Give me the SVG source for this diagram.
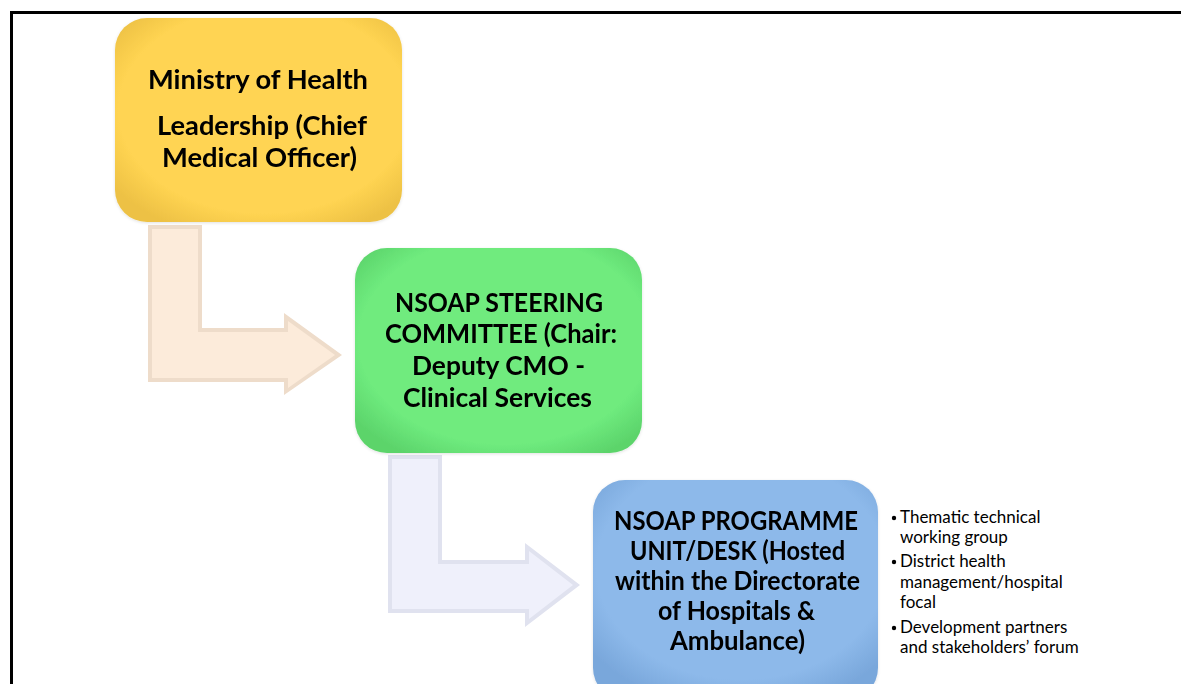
<svg xmlns="http://www.w3.org/2000/svg" width="1181" height="684" viewBox="0 0 1181 684">
  <style>
    .box-text { font-family: Lato, "Liberation Sans", sans-serif; font-weight: 700; font-size: 27px; fill: #000; text-anchor: middle; }
    .box-text.sm { font-size: 26px; }
    .note { font-family: Lato, "Liberation Sans", sans-serif; font-size: 17px; fill: #000; }
    .frame { stroke: #000; stroke-width: 3; fill: none; }
  </style>
  <defs>
    <radialGradient id="gYellow" cx="52%" cy="45%" r="65%">
      <stop offset="0.78" stop-color="#FFD452"/>
      <stop offset="1" stop-color="#EDC144"/>
    </radialGradient>
    <radialGradient id="gGreen" cx="52%" cy="45%" r="65%">
      <stop offset="0.78" stop-color="#6FEB7E"/>
      <stop offset="1" stop-color="#5CD46B"/>
    </radialGradient>
    <radialGradient id="gBlue" cx="52%" cy="40%" r="65%">
      <stop offset="0.78" stop-color="#8DB9EA"/>
      <stop offset="1" stop-color="#79A7DB"/>
    </radialGradient>
    <filter id="soft" x="-10%" y="-10%" width="120%" height="120%">
      <feGaussianBlur in="SourceAlpha" stdDeviation="1.5"/>
      <feOffset dx="0" dy="1" result="b"/>
      <feFlood flood-color="#000" flood-opacity="0.12"/>
      <feComposite in2="b" operator="in"/>
      <feMerge><feMergeNode/><feMergeNode in="SourceGraphic"/></feMerge>
    </filter>
  </defs>

  <!-- frame lines along the top and left edges -->
  <path class="frame" d="M11.5 684 V12.5 H1181"/>

  <!-- bent arrows between levels (outer band plus lighter face = bevel) -->
  <g id="connectors">
    <g id="arrow-1">
      <polygon points="148,225 202,225 202,328 284,328 284,313 342,355 284,395 284,382 148,382" fill="#EEDCCA"/>
      <polygon points="152,229 198,229 198,332 288,332 288,321 335,355 288,388 288,378 152,378" fill="#FCEBDA"/>
    </g>
    <g id="arrow-2">
      <polygon points="388,455 442,455 442,560 525,560 525,543 580,585 525,627 525,613 388,613" fill="#E0E2EF"/>
      <polygon points="392,459 438,459 438,564 529,564 529,551 573,585 529,619 529,609 392,609" fill="#EFF0FB"/>
    </g>
  </g>

  <g id="node-moh" filter="url(#soft)">
    <rect x="115" y="18" width="287" height="204" rx="32" fill="url(#gYellow)"/>
    <text class="box-text" x="258" y="89" textLength="220" lengthAdjust="spacingAndGlyphs">Ministry of Health</text>
    <text class="box-text" x="262" y="135" textLength="210" lengthAdjust="spacingAndGlyphs">Leadership (Chief</text>
    <text class="box-text" x="259.5" y="167" textLength="195" lengthAdjust="spacingAndGlyphs">Medical Officer)</text>
  </g>

  <g id="node-steering" filter="url(#soft)">
    <rect x="355" y="248" width="287" height="205" rx="32" fill="url(#gGreen)"/>
    <text class="box-text" x="499" y="312" textLength="208" lengthAdjust="spacingAndGlyphs">NSOAP STEERING</text>
    <text class="box-text" x="501" y="343" textLength="232" lengthAdjust="spacingAndGlyphs">COMMITTEE (Chair:</text>
    <text class="box-text" x="498.5" y="375" textLength="173" lengthAdjust="spacingAndGlyphs">Deputy CMO -</text>
    <text class="box-text" x="497.5" y="407" textLength="189" lengthAdjust="spacingAndGlyphs">Clinical Services</text>
  </g>

  <g id="node-programme" filter="url(#soft)">
    <rect x="593" y="480" width="285" height="220" rx="32" fill="url(#gBlue)"/>
    <text class="box-text sm" x="736" y="530" textLength="244" lengthAdjust="spacingAndGlyphs">NSOAP PROGRAMME</text>
    <text class="box-text sm" x="737.5" y="560" textLength="215" lengthAdjust="spacingAndGlyphs">UNIT/DESK (Hosted</text>
    <text class="box-text sm" x="737.5" y="590" textLength="245" lengthAdjust="spacingAndGlyphs">within the Directorate</text>
    <text class="box-text sm" x="736.5" y="620" textLength="157" lengthAdjust="spacingAndGlyphs">of Hospitals &amp;</text>
    <text class="box-text sm" x="737.5" y="650" textLength="135" lengthAdjust="spacingAndGlyphs">Ambulance)</text>
  </g>

  <g id="node-programme-notes">
    <circle cx="894" cy="518" r="2.2" fill="#000"/>
    <circle cx="894" cy="562" r="2.2" fill="#000"/>
    <circle cx="894" cy="628" r="2.2" fill="#000"/>
    <text class="note" x="900" y="523">Thematic technical</text>
    <text class="note" x="900" y="543">working group</text>
    <text class="note" x="900" y="567">District health</text>
    <text class="note" x="900" y="588">management/hospital</text>
    <text class="note" x="900" y="608">focal</text>
    <text class="note" x="900" y="633">Development partners</text>
    <text class="note" x="900" y="653">and stakeholders’ forum</text>
  </g>
</svg>
